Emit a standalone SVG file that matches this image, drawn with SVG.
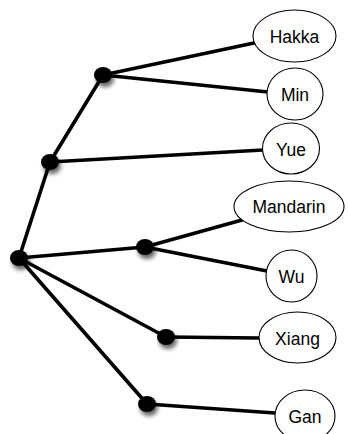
<svg xmlns="http://www.w3.org/2000/svg" width="348" height="434" viewBox="0 0 348 434">
<style>
.edge{stroke:#000;stroke-width:3.6;stroke-linecap:round;fill:none}
.leaf ellipse{fill:#fff;stroke:#000;stroke-width:1.1}
.leaf text{font-family:"Liberation Sans",Arial,sans-serif;font-size:17.5px;fill:#000;text-anchor:middle;dominant-baseline:central}
.dot{fill:#000;filter:url(#sh)}
</style>
<defs>
<filter id="sh" x="-100%" y="-100%" width="300%" height="300%">
<feGaussianBlur in="SourceAlpha" stdDeviation="2.2"/>
<feOffset dx="2" dy="4" result="b"/>
<feComponentTransfer><feFuncA type="linear" slope="0.6"/></feComponentTransfer>
<feMerge><feMergeNode/><feMergeNode in="SourceGraphic"/></feMerge>
</filter>
</defs>
<rect width="348" height="434" fill="#fff"/>
<g id="connectors">
<line class="edge" x1="19" y1="258" x2="50" y2="162"/>
<line class="edge" x1="50" y1="162" x2="103" y2="75"/>
<line class="edge" x1="103" y1="75" x2="254" y2="43"/>
<line class="edge" x1="103" y1="75" x2="268" y2="92"/>
<line class="edge" x1="50" y1="162" x2="263" y2="150"/>
<line class="edge" x1="19" y1="258" x2="145" y2="247"/>
<line class="edge" x1="145" y1="247" x2="242" y2="220"/>
<line class="edge" x1="145" y1="247" x2="267" y2="271"/>
<line class="edge" x1="19" y1="258" x2="166" y2="337"/>
<line class="edge" x1="166" y1="337" x2="259" y2="338"/>
<line class="edge" x1="19" y1="258" x2="147" y2="404"/>
<line class="edge" x1="147" y1="404" x2="275" y2="413"/>
</g>
<g id="n_root"><ellipse class="dot" cx="19" cy="258" rx="9" ry="8"/></g>
<g id="n_a"><ellipse class="dot" cx="50" cy="162" rx="9" ry="8"/></g>
<g id="n_b"><ellipse class="dot" cx="103" cy="75" rx="9" ry="8"/></g>
<g id="n_c"><ellipse class="dot" cx="145" cy="247" rx="9" ry="8"/></g>
<g id="n_d"><ellipse class="dot" cx="166" cy="337" rx="9" ry="8"/></g>
<g id="n_e"><ellipse class="dot" cx="147" cy="404" rx="9" ry="8"/></g>
<g id="hakka" class="leaf"><ellipse cx="294.5" cy="36" rx="41.5" ry="26"/><text x="294.5" y="37">Hakka</text></g>
<g id="min" class="leaf"><ellipse cx="295" cy="94" rx="28" ry="26"/><text x="295" y="95">Min</text></g>
<g id="yue" class="leaf"><ellipse cx="291" cy="148.5" rx="28.5" ry="25.5"/><text x="291" y="149.5">Yue</text></g>
<g id="mandarin" class="leaf"><ellipse cx="289" cy="206.5" rx="55" ry="25.5"/><text x="289" y="207">Mandarin</text></g>
<g id="wu" class="leaf"><ellipse cx="291.5" cy="276" rx="25.5" ry="26"/><text x="291.5" y="277">Wu</text></g>
<g id="xiang" class="leaf"><ellipse cx="297.5" cy="337.5" rx="38.5" ry="25.5"/><text x="297.5" y="338.5">Xiang</text></g>
<g id="gan" class="leaf"><ellipse cx="305" cy="416" rx="30" ry="26"/><text x="305" y="417">Gan</text></g>
</svg>
